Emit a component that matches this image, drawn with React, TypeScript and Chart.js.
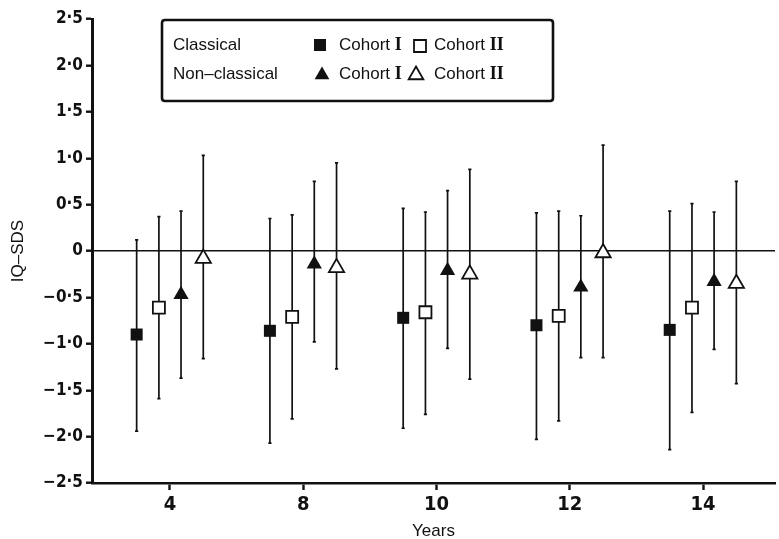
import React, { useEffect, useRef } from "react";
import { Chart, registerables } from "chart.js";

Chart.register(...registerables);

// ---- data ----
const ageLabels = ["4", "8", "10", "12", "14"];
const seriesNames = [
  "Classical Cohort I",
  "Classical Cohort II",
  "Non-classical Cohort I",
  "Non-classical Cohort II",
];
const seriesOffsets = [-0.25, -0.083, 0.083, 0.25];

const classicalC1Mean = [-0.9, -0.86, -0.72, -0.8, -0.85];
const classicalC1Low = [-1.94, -2.07, -1.91, -2.03, -2.14];
const classicalC1High = [0.12, 0.35, 0.46, 0.41, 0.43];

const classicalC2Mean = [-0.61, -0.71, -0.66, -0.7, -0.61];
const classicalC2Low = [-1.59, -1.81, -1.76, -1.83, -1.74];
const classicalC2High = [0.37, 0.39, 0.42, 0.43, 0.51];

const nonClassicalC1Mean = [-0.47, -0.14, -0.21, -0.39, -0.33];
const nonClassicalC1Low = [-1.37, -0.98, -1.05, -1.15, -1.06];
const nonClassicalC1High = [0.43, 0.75, 0.65, 0.38, 0.42];

const nonClassicalC2Mean = [-0.08, -0.18, -0.25, -0.02, -0.35];
const nonClassicalC2Low = [-1.16, -1.27, -1.38, -1.15, -1.43];
const nonClassicalC2High = [1.03, 0.95, 0.88, 1.14, 0.75];

const yTickValues = [-2.5, -2, -1.5, -1, -0.5, 0, 0.5, 1, 1.5, 2, 2.5];

const INK = "#111111";
const SANS = '"Liberation Sans", Arial, Helvetica, sans-serif';
const NARROW =
  '"Liberation Sans Narrow", "DejaVu Sans Condensed", "Liberation Sans", Arial, sans-serif';
const SERIF = '"Liberation Serif", "Times New Roman", serif';

function fmtTick(v: number): string {
  if (Math.abs(v) < 1e-9) return "0";
  const s = Math.abs(v).toFixed(1).replace(".", "\u00B7");
  return (v < 0 ? "\u2212" : "") + s;
}

function buildSeries(mean: number[], low: number[], high: number[], k: number) {
  return mean.map((m, i) => ({
    x: i + seriesOffsets[k],
    y: m,
    low: low[i],
    high: high[i],
  }));
}

const errorBarPlugin = {
  id: "errorBars",
  beforeDatasetsDraw(chart: any) {
    const { ctx } = chart;
    const xs = chart.scales.x;
    const ys = chart.scales.y;
    ctx.save();
    ctx.strokeStyle = INK;
    ctx.lineWidth = 1.7;
    chart.data.datasets.forEach((ds: any) => {
      ds.data.forEach((p: any) => {
        const px = xs.getPixelForValue(p.x);
        const yl = ys.getPixelForValue(p.low);
        const yh = ys.getPixelForValue(p.high);
        ctx.beginPath();
        ctx.moveTo(px, yl);
        ctx.lineTo(px, yh);
        ctx.stroke();
        ctx.beginPath();
        ctx.moveTo(px - 1.6, yl);
        ctx.lineTo(px + 1.6, yl);
        ctx.moveTo(px - 1.6, yh);
        ctx.lineTo(px + 1.6, yh);
        ctx.stroke();
      });
    });
    ctx.restore();
  },
};

function drawSquare(ctx: CanvasRenderingContext2D, x: number, y: number, filled: boolean) {
  const h = 6;
  ctx.beginPath();
  ctx.rect(x - h, y - h, 2 * h, 2 * h);
  if (filled) {
    ctx.fillStyle = INK;
    ctx.fill();
  } else {
    ctx.fillStyle = "#fff";
    ctx.fill();
    ctx.lineWidth = 1.8;
    ctx.strokeStyle = INK;
    ctx.stroke();
  }
}

function drawTriangle(ctx: CanvasRenderingContext2D, x: number, y: number, filled: boolean) {
  const r = 8.5;
  ctx.beginPath();
  for (let i = 0; i < 3; i++) {
    const a = (i * 2 * Math.PI) / 3;
    const px = x + Math.sin(a) * r;
    const py = y - Math.cos(a) * r;
    if (i === 0) ctx.moveTo(px, py);
    else ctx.lineTo(px, py);
  }
  ctx.closePath();
  if (filled) {
    ctx.fillStyle = INK;
    ctx.fill();
  } else {
    ctx.fillStyle = "#fff";
    ctx.fill();
    ctx.lineWidth = 1.8;
    ctx.strokeStyle = INK;
    ctx.stroke();
  }
}

const legendPlugin = {
  id: "boxLegend",
  afterDraw(chart: any) {
    const { ctx } = chart;
    ctx.save();
    const bx = 162, by = 20, bw = 391, bh = 81, r = 3;
    ctx.beginPath();
    ctx.moveTo(bx + r, by);
    ctx.lineTo(bx + bw - r, by);
    ctx.quadraticCurveTo(bx + bw, by, bx + bw, by + r);
    ctx.lineTo(bx + bw, by + bh - r);
    ctx.quadraticCurveTo(bx + bw, by + bh, bx + bw - r, by + bh);
    ctx.lineTo(bx + r, by + bh);
    ctx.quadraticCurveTo(bx, by + bh, bx, by + bh - r);
    ctx.lineTo(bx, by + r);
    ctx.quadraticCurveTo(bx, by, bx + r, by);
    ctx.lineWidth = 2.6;
    ctx.strokeStyle = INK;
    ctx.stroke();

    const rows = [
      { label: "Classical", y: 45, shape: "square" },
      { label: "Non\u2013classical", y: 74, shape: "triangle" },
    ];
    ctx.textBaseline = "middle";
    ctx.textAlign = "left";
    ctx.fillStyle = INK;
    const writeCohort = (x: number, y: number, num: string) => {
      ctx.font = `17px ${SANS}`;
      ctx.fillStyle = INK;
      const t = "Cohort ";
      ctx.fillText(t, x, y);
      const w = ctx.measureText(t).width;
      ctx.font = `bold 18px ${SERIF}`;
      ctx.fillText(num, x + w, y + 0.5);
    };
    rows.forEach((row) => {
      ctx.font = `17px ${SANS}`;
      ctx.fillStyle = INK;
      ctx.fillText(row.label, 173, row.y);
      if (row.shape === "square") {
        drawSquare(ctx, 320, row.y, true);
        drawSquare(ctx, 420, row.y + 1, false);
      } else {
        drawTriangle(ctx, 322, row.y + 1, true);
        drawTriangle(ctx, 416, row.y + 1, false);
      }
      writeCohort(339, row.y, "I");
      writeCohort(434, row.y, "II");
    });
    ctx.restore();
  },
};

export default function App() {
  const canvasRef = useRef<HTMLCanvasElement | null>(null);

  useEffect(() => {
    document.body.style.margin = "0";
    const canvas = canvasRef.current;
    if (!canvas) return;

    const styles = [
      { shape: "rect", filled: true, radius: 8.5 },
      { shape: "rect", filled: false, radius: 8.5 },
      { shape: "triangle", filled: true, radius: 8.8 },
      { shape: "triangle", filled: false, radius: 8.8 },
    ];
    const seriesData = [
      buildSeries(classicalC1Mean, classicalC1Low, classicalC1High, 0),
      buildSeries(classicalC2Mean, classicalC2Low, classicalC2High, 1),
      buildSeries(nonClassicalC1Mean, nonClassicalC1Low, nonClassicalC1High, 2),
      buildSeries(nonClassicalC2Mean, nonClassicalC2Low, nonClassicalC2High, 3),
    ];

    const chart = new Chart(canvas, {
      type: "scatter",
      data: {
        datasets: seriesData.map((d, k) => ({
          label: seriesNames[k],
          data: d,
          pointStyle: styles[k].shape,
          pointRadius: styles[k].radius,
          pointHoverRadius: styles[k].radius,
          pointBackgroundColor: styles[k].filled ? INK : "#ffffff",
          pointBorderColor: INK,
          pointBorderWidth: styles[k].filled ? 0 : 1.8,
          showLine: false,
        })),
      },
      options: {
        responsive: false,
        animation: false,
        events: [],
        layout: { autoPadding: false, padding: { top: 19, right: 4, left: 0, bottom: 0 } },
        plugins: {
          legend: { display: false },
          tooltip: { enabled: false },
        },
        scales: {
          x: {
            type: "linear",
            min: -0.585,
            max: 4.54,
            afterBuildTicks: (scale: any) => {
              scale.ticks = ageLabels.map((_, i) => ({ value: i }));
            },
            afterFit: (scale: any) => {
              scale.height = 56;
              scale.paddingLeft = 0;
              scale.paddingRight = 0;
            },
            border: { display: true, color: INK, width: 2.6 },
            grid: {
              drawOnChartArea: false,
              drawTicks: true,
              tickLength: 7,
              tickColor: INK,
              tickWidth: 2.4,
            },
            ticks: {
              color: INK,
              padding: 3,
              maxRotation: 0,
              autoSkip: false,
              font: { family: NARROW, size: 20, weight: "bold" },
              callback: (v: any) => ageLabels[Math.round(Number(v))] ?? "",
            },
            title: {
              display: true,
              text: "Years",
              color: INK,
              font: { family: SANS, size: 17, lineHeight: 0.8 },
              padding: { top: 0, bottom: 1 },
            },
          },
          y: {
            type: "linear",
            min: -2.5,
            max: 2.5,
            afterBuildTicks: (scale: any) => {
              scale.ticks = yTickValues.map((v) => ({ value: v }));
            },
            afterFit: (scale: any) => {
              scale.width = 92;
            },
            border: { display: true, color: INK, width: 3 },
            grid: {
              drawOnChartArea: true,
              drawTicks: true,
              tickLength: 6,
              tickColor: INK,
              tickWidth: 2.4,
              lineWidth: 1.4,
              color: (c: any) =>
                c.tick && Math.abs(c.tick.value) < 1e-9 ? INK : "rgba(0,0,0,0)",
            },
            ticks: {
              color: INK,
              padding: 3,
              font: { family: NARROW, size: 17, weight: "bold" },
              callback: (v: any) => fmtTick(Number(v)),
            },
            title: {
              display: true,
              text: "IQ\u2013SDS",
              color: INK,
              font: { family: SANS, size: 17, lineHeight: 1.2 },
              padding: { top: 8, bottom: 0 },
            },
          },
        },
      } as any,
      plugins: [errorBarPlugin, legendPlugin],
    });

    return () => chart.destroy();
  }, []);

  return (
    <div style={{ width: 779, height: 539, background: "#fff" }}>
      <canvas ref={canvasRef} width={779} height={539} style={{ display: "block" }} />
    </div>
  );
}
